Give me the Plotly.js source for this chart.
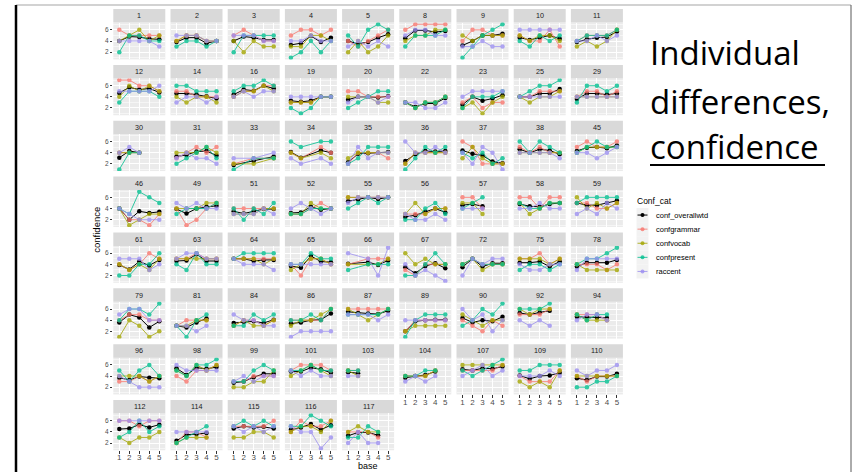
<!DOCTYPE html>
<html>
<head>
<meta charset="utf-8">
<script src="https://cdn.plot.ly/plotly-3.0.1.min.js"></script>
<style>html,body{margin:0;padding:0;background:#fff;}#chart{width:853px;height:472px;}</style>
</head>
<body>
<div id="chart"></div>
<script>
// ---------------- DATA ----------------
const panels = [1,2,3,4,5,8,9,10,11, 12,14,16,19,20,22,23,25,29, 30,31,33,34,35,36,37,38,45,
  46,49,51,52,55,56,57,58,59, 61,63,64,65,66,67,72,75,78, 79,81,84,86,87,89,90,92,94,
  96,98,99,101,103,104,107,109,110, 112,114,115,116,117];
const baseLevels = [1,2,3,4,5];
const seriesNames = ["conf_overallwtd","confgrammar","confvocab","confpresent","raccent"];

const confOverall = [
 [4,4.8,4.7,4.4,4.3],[3.8,4.6,4.6,3.6,4],[4,4.8,4.6,4.2,4.2],[3.3,3.6,4.9,3.8,4.6],[4,3.5,3.8,4.6,5.2],
 [4.5,5.9,5.9,5.6,5.8],[3.2,4,5,5,5.3],[4.6,4.2,4.6,5,4.4],[3.8,4.3,4.6,4.7,5.7],
 [4.7,5.7,5.3,5.5,4.8],[4.6,4.6,4.4,4.1,3.7],[4.4,5.3,5.1,6,5.5],[3.3,3.1,3.3,4,4],[3.5,4,4,3.9,4.1],
 [3,2.2,2.8,2.8,3.8],[2.6,4,3.3,3.7,4.3],[4,4,4.6,4.6,5.4],[3.6,4.6,4.6,4.4,4.6],
 [3.1,4.3,4,null,null],[3.3,3.6,4.2,4.3,3.5],[1.8,null,2.5,null,3.3],[4.1,3.1,null,4.4,4],[2.3,3.8,3.9,4,4.1],
 [2.5,3.7,4.3,4.2,4.3],[4.4,3.8,3.5,2.4,2.1],[4.6,4,4.6,4.4,3.7],[4.3,4.9,5,4.8,5.3],
 [4,2,3.5,3.2,3.4],[3.9,3.1,4,4.3,4.5],[3.5,3.1,3.5,3.9,3.9],[3.2,3.3,4.3,3.8,4],[5.3,5.6,6,5.7,6],
 [2.5,2.8,3.4,4,3.3],[4.6,4.8,4.4,null,null],[4.8,4.4,4.3,4.8,5],[5,4.6,4.6,5,5.4],
 [3.9,3.1,4.5,3.8,4.8],[4.6,4.7,5.8,4.6,4.6],[5,5,4.6,4.8,4.8],[3.7,3.4,5.5,4.5,4.4],[4.1,null,4.4,3.9,4.7],
 [3.5,2.4,3.7,4.2,3.3],[3.5,5,3.6,4.2,4.2],[4.3,4.3,4.5,3.6,4.5],[3.6,4.3,4.3,4.3,4.8],
 [3.6,5,4.5,2.7,3.8],[3,2.7,3.6,4.3,null],[3.5,3.7,3.8,3.5,4.1],[3.4,3.6,4,4.1,5.2],[5.5,5.3,5.2,5.1,5.7],
 [2,3.8,4,4.1,4.1],[4.4,3.6,4,3.8,4.6],[5.3,5,5.4,5.7,null],[4.6,4.6,4.5,4.4,null],
 [3.7,3.3,3.9,3.7,3.6],[5.4,4.2,5.5,5.3,5.6],[2.8,3,3.8,4.4,4.4],[4.8,4.8,5.5,5.2,4.6],[4.7,4.5,null,null,null],
 [3.7,4,4.2,4.8,null],[5.2,5,5.4,5.3,5.7],[4.1,3.5,4,4.1,4.6],[3.6,3.3,3.9,3.9,4.4],
 [4.5,4.6,5.3,4.8,5.3],[2.4,3.5,3.6,3.8,null],[4.6,5,4.8,4.9,4.6],[4.4,4.8,5.4,4.4,5.2],[3.3,3.9,3.9,3.4,null]
];
const confGrammar = [
 [6,5,5,5,5],[4,5,5,4,4],[5,6,5,4,4],[5,6,6,5,6],[4,3,4,5,6],[6,7,7,7,7],[4,6,6,5,5],[5,4,4,6,3],[4,5,5,5,6],
 [7,7,6,6,5],[5,5,4,4,4],[4,5,5,6,6],[3,3,3,4,4],[5,5,4,4,4],[3,2,3,3,4],[3,4,2,3,3],[4,4,5,5,5],[4,5,5,4,5],
 [4,4,4,null,null],[3,4,5,4,5],[2,null,3,null,3],[4,3,null,5,4],[2,4,4,4,3],[2,4,4,4,4],[6,5,2,2,2],[5,4,5,4,4],[5,6,5,5,6],
 [4,2,2,1,3],[4,1,2,4,5],[4,4,4,4,4],[3,3,4,5,4],[6,6,6,6,6],[3,3,3,4,4],[6,6,4,null,null],[6,6,4,6,6],[5,5,4,4,5],
 [4,3,4,6,5],[5,5,6,5,5],[5,5,5,5,5],[4,2,5,5,4],[4,null,5,5,5],[3,2,4,4,4],[4,5,4,4,4],[5,5,6,4,5],[4,4,4,3,4],
 [4,5,5,4,4],[3,4,4,4,null],[3,4,4,3,4],[4,4,4,4,6],[6,6,6,6,6],[2,4,4,4,4],[4,3,2,4,3],[5,5,5,6,null],[5,5,5,4,null],
 [3,3,4,3,4],[4,3,5,5,6],[3,3,4,4,4],[5,6,6,6,5],[5,5,null,null,null],[4,4,4,5,null],[5,5,5,5,6],[4,3,3,3,5],[4,3,4,4,4],
 [6,6,5,6,6],[2,4,4,3,null],[5,5,5,5,6],[4,6,5,5,6],[4,4,4,3,null]
];
const confVocab = [
 [4,5,6,4,5],[4,5,5,4,4],[4,2,4,3,3],[3,3,5,5,4],[2,4,2,3,5],[4,5,5,6,6],[5,4,5,5,5],[5,4,5,5,4],[3,4,3,4,6],
 [4,6,5,6,5],[4,3,4,4,3],[4,5,5,6,5],[3,3,3,4,4],[4,4,4,3,3],[3,2,3,3,4],[2,3,1,3,4],[4,3,4,4,5],[4,4,4,4,4],
 [4,4,4,null,null],[4,4,4,5,4],[2,null,2,null,3],[4,3,null,4,3],[3,4,4,4,4],[2,4,4,4,4],[3,5,3,2,2],[4,4,4,4,4],[4,5,5,5,5],
 [4,1,2,3,3],[4,4,4,5,5],[3,3,3,4,4],[3,3,5,4,4],[6,6,6,6,6],[3,5,3,4,4],[5,5,3,null,null],[5,3,4,5,5],[6,4,5,4,5],
 [4,3,4,3,5],[5,5,5,5,5],[5,5,5,4,5],[3,4,5,5,4],[4,null,4,4,5],[6,4,5,4,4],[4,5,3,4,4],[5,5,5,4,5],[4,3,3,3,3],
 [1,4,3,1,2],[3,3,4,4,null],[3,4,3,3,4],[3,4,4,5,6],[6,5,4,5,6],[2,3,3,3,3],[5,4,3,4,4],[6,5,6,6,null],[5,4,4,4,null],
 [4,4,4,3,4],[5,4,6,5,6],[2,2,3,3,5],[4,5,6,5,4],[5,4,null,null,null],[4,4,4,5,null],[6,6,6,6,6],[3,2,3,2,5],[4,4,4,4,4],
 [3,2,3,3,4],[2,3,3,3,null],[3,3,4,4,3],[4,5,5,4,6],[4,5,4,4,null]
];
const confPresent = [
 [2,5,5,4,4],[3,4,4,3,4],[2,5,5,5,5],[1,2,4,2,4],[5,3,6,7,6],[3,5,5,5,6],[1,3,5,6,7],[4,3,5,4,5],[4,5,5,5,6],
 [3,5,5,5,4],[6,6,5,5,5],[5,6,6,7,6],[2,1,2,4,4],[2,3,4,5,5],[3,2,3,3,4],[2,4,4,4,5],[4,5,6,6,7],[3,6,6,5,6],
 [1,4,4,null,null],[2,3,4,5,3],[1,null,3,null,3],[6,5,null,6,6],[2,3,5,5,5],[1,3,5,4,5],[4,3,4,2,3],[6,4,6,5,4],[4,5,6,5,5],
 [4,3,7,6,5],[3,4,4,4,5],[4,2,4,3,5],[3,3,4,4,4],[4,5,6,5,6],[2,2,4,5,3],[4,5,6,null,null],[5,4,4,5,5],[5,6,6,6,6],
 [2,2,4,4,6],[4,3,6,4,4],[5,6,6,6,6],[4,4,6,5,5],[3,null,4,4,4],[2,2,4,6,4],[4,5,4,4,4],[3,4,4,3,4],[4,5,5,6,7],
 [4,6,6,5,7],[3,1,4,5,null],[3,3,5,4,5],[4,4,5,4,6],[5,5,5,5,6],[1,4,5,5,5],[3,4,6,5,7],[6,6,6,7,null],[5,4,5,5,null],
 [5,3,5,6,4],[5,4,6,6,7],[3,3,5,6,5],[5,5,6,5,5],[5,5,null,null,null],[4,4,5,5,null],[5,4,5,6,7],[5,5,6,6,6],[2,2,3,3,4],
 [3,4,6,4,5],[2,3,4,5,null],[5,6,5,6,5],[5,5,7,6,5],[3,3,5,4,null]
];
const rAccent = [
 [4,4,4,4,3],[5,5,5,4,4],[5,5,5,4,4],[4,4,5,4,4],[3,4,3,4,3],[5,6,6,5,5],[3,3,4,3,3],[6,6,6,6,6],[4,4,5,4,5],
 [5,5,5,5,6],[3,4,4,3,4],[4,5,4,5,5],[4,4,4,4,4],[3,4,4,3,4],[3,3,2,2,3],[4,5,5,5,5],[4,4,4,4,4],[4,4,4,4,4],
 [4,5,4,null,null],[3,4,3,3,2],[3,null,3,null,4],[3,2,null,3,2],[2,5,3,4,4],[6,4,4,5,4],[4,2,5,4,1],[4,4,4,4,3],[4,4,3,4,5],
 [4,3,2,2,2],[5,4,5,4,4],[3,3,3,4,3],[4,5,4,3,4],[5,6,6,6,6],[3,2,2,3,2],[4,4,4,null,null],[4,4,5,4,4],[3,4,3,5,4],
 [5,5,5,3,4],[5,6,6,5,5],[5,4,4,4,3],[4,4,4,4,4],[6,null,5,2,7],[4,2,3,2,1],[2,5,4,5,5],[4,3,3,4,4],[3,5,5,5,5],
 [5,6,6,4,4],[3,3,2,3,null],[5,4,4,3,3],[1,2,2,2,2],[5,5,5,4,5],[4,4,4,4,4],[6,4,5,2,4],[4,3,4,3,null],[4,5,5,4,null],
 [4,3,2,2,2],[6,5,5,5,5],[3,4,3,4,4],[5,4,5,4,4],[4,4,null,null,null],[3,4,3,4,null],[4,5,6,4,5],[4,4,4,5,4],[5,4,5,5,6],
 [6,6,6,6,6],[4,4,4,4,null],[5,4,5,4,5],[5,4,4,1,3],[2,4,2,2,null]
];
const yTicks = [2,4,6];
const yMinor = [1,3,5,7];
const titleLines = ["Individual","differences,","confidence"];
const legendTitle = "Conf_cat";

// ---------------- STYLE / LAYOUT ----------------
const W = 853, H = 472;
const seriesData = [confOverall, confGrammar, confVocab, confPresent, rAccent];
const seriesColors = ["#000000","#F8766D","#A3A500","#00BF8F","#9C8FF0"];
const seriesOpacity = [1,0.8,0.8,0.8,0.8];
const NCOL = 9;
const COL0 = 113.3, COLP = 57.2, PW = 52;
const ROW0 = 9.1, ROWP = 55.84, STRIP = 13.5, PH = 36.8;
const FONT = "Liberation Sans, Arial, sans-serif";
const px = v => v / W, py = v => 1 - v / H;

const traces = [];
const layout = {
  width: W, height: H,
  margin: {l:0, r:0, t:0, b:0},
  paper_bgcolor: "#FFFFFF",
  plot_bgcolor: "#EBEBEB",
  font: {family: FONT, color: "#1A1A1A"},
  showlegend: false,
  shapes: [], annotations: []
};

panels.forEach((pid, i) => {
  const row = Math.floor(i / NCOL), col = i % NCOL;
  const n = i === 0 ? "" : String(i + 1);
  const x0 = COL0 + col * COLP, x1 = x0 + PW;
  const sTop = ROW0 + row * ROWP;
  const pTop = sTop + STRIP, pBot = pTop + PH;
  const isBottom = (col < 5 && row === 7) || (col >= 5 && row === 6);
  const isLeft = col === 0;
  layout["xaxis" + n] = {
    domain: [px(x0), px(x1)], anchor: "y" + n, range: [0.4, 5.6],
    tickmode: "array", tickvals: baseLevels,
    showticklabels: isBottom, ticks: isBottom ? "outside" : "", ticklen: 2.5, tickwidth: 1, tickcolor: "#333333",
    ticklabelstandoff: -3,
    tickfont: {size: 8, color: "#4D4D4D", family: FONT},
    showgrid: true, gridcolor: "#FFFFFF", gridwidth: 1, zeroline: false, showline: false, fixedrange: true
  };
  layout["yaxis" + n] = {
    domain: [py(pBot), py(pTop)], anchor: "x" + n, range: [0.7, 7.3],
    tickmode: "array", tickvals: yTicks,
    minor: {tickmode: "array", tickvals: yMinor, showgrid: true, gridcolor: "#FFFFFF", gridwidth: 0.5},
    showticklabels: isLeft, ticks: isLeft ? "outside" : "", ticklen: 2.5, tickwidth: 1, tickcolor: "#333333",
    tickfont: {size: 6.5, color: "#4D4D4D", family: FONT},
    showgrid: true, gridcolor: "#FFFFFF", gridwidth: 1, zeroline: false, showline: false, fixedrange: true
  };
  layout.shapes.push({type: "rect", xref: "paper", yref: "paper", x0: px(x0), x1: px(x1),
    y0: py(sTop + STRIP), y1: py(sTop), fillcolor: "#D9D9D9", line: {width: 0}, layer: "below"});
  layout.annotations.push({xref: "paper", yref: "paper", x: px((x0 + x1) / 2), y: py(sTop + STRIP / 2),
    text: String(pid), showarrow: false, xanchor: "center", yanchor: "middle",
    font: {size: 7.2, color: "#1A1A1A", family: FONT}});
  seriesData.forEach((arr, s) => {
    traces.push({
      type: "scatter", mode: "lines+markers",
      x: baseLevels, y: arr[i],
      xaxis: "x" + n, yaxis: "y" + n,
      name: seriesNames[s], showlegend: false,
      line: {color: seriesColors[s], width: 1},
      marker: {color: seriesColors[s], size: 4.5},
      opacity: seriesOpacity[s], connectgaps: true, hoverinfo: "skip"
    });
  });
});

// axis titles
layout.annotations.push({xref: "paper", yref: "paper", x: px(367.8), y: py(465.5), text: "base",
  showarrow: false, xanchor: "center", yanchor: "middle", font: {size: 9, color: "#000", family: FONT}});
layout.annotations.push({xref: "paper", yref: "paper", x: px(97), y: py(229.7), text: "confidence",
  textangle: -90, showarrow: false, xanchor: "center", yanchor: "middle", font: {size: 9.5, color: "#000", family: FONT}});

// legend (ggplot-style keys)
layout.annotations.push({xref: "paper", yref: "paper", x: px(635), y: py(200.5), text: legendTitle,
  showarrow: false, xanchor: "left", yanchor: "middle", font: {size: 8.5, color: "#000", family: FONT}});
const KEY_X0 = 636.5, KEY_W = 12, KEY_Y0 = 208, KEY_H = 14.1;
seriesNames.forEach((nm, s) => {
  const yTop = KEY_Y0 + s * KEY_H, yc = yTop + KEY_H / 2;
  layout.shapes.push({type: "rect", xref: "paper", yref: "paper", x0: px(KEY_X0), x1: px(KEY_X0 + KEY_W),
    y0: py(yTop + KEY_H), y1: py(yTop), fillcolor: "#F2F2F2", line: {width: 0}});
  layout.shapes.push({type: "line", xref: "paper", yref: "paper", x0: px(KEY_X0 + 1), x1: px(KEY_X0 + KEY_W - 1),
    y0: py(yc), y1: py(yc), line: {color: seriesColors[s], width: 1}, opacity: seriesOpacity[s]});
  layout.shapes.push({type: "circle", xref: "paper", yref: "paper", x0: px(KEY_X0 + KEY_W / 2 - 2), x1: px(KEY_X0 + KEY_W / 2 + 2),
    y0: py(yc + 2), y1: py(yc - 2), fillcolor: seriesColors[s], line: {width: 0}, opacity: seriesOpacity[s]});
  layout.annotations.push({xref: "paper", yref: "paper", x: px(653.5), y: py(yc), text: nm,
    showarrow: false, xanchor: "left", yanchor: "middle", font: {size: 7.5, color: "#000", family: FONT}});
});

// slide title text
const titleY = [52.5, 101.5, 147];
titleLines.forEach((t, k) => {
  layout.annotations.push({xref: "paper", yref: "paper", x: px(648), y: py(titleY[k]), text: t,
    showarrow: false, xanchor: "left", yanchor: "middle",
    font: {size: 33, color: "#000", family: "Open Sans, Lato, sans-serif"}});
});
// underline under "confidence"
layout.shapes.push({type: "line", xref: "paper", yref: "paper", x0: px(650), x1: px(825),
  y0: py(165), y1: py(165), line: {color: "#000", width: 2}});
// slide frame
layout.shapes.push({type: "line", xref: "paper", yref: "paper", x0: px(16), x1: px(851),
  y0: py(5), y1: py(5), line: {color: "#A6A6A6", width: 1.2}});
layout.shapes.push({type: "line", xref: "paper", yref: "paper", x0: px(16), x1: px(16),
  y0: py(5), y1: 0, line: {color: "#000", width: 2.5}});
layout.shapes.push({type: "line", xref: "paper", yref: "paper", x0: px(851), x1: px(851),
  y0: py(5), y1: 0, line: {color: "#595959", width: 1}});

Plotly.newPlot("chart", traces, layout, {staticPlot: true, displayModeBar: false});
</script>
</body>
</html>
